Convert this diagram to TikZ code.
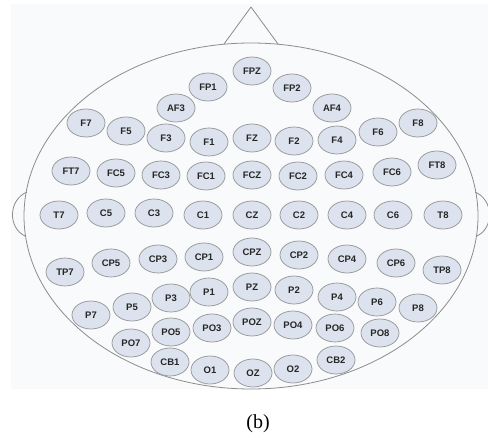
\documentclass[tikz,border=0pt]{standalone}
\usepackage{fontspec}
\setmainfont{Liberation Serif}
\newfontfamily\elfont{Liberation Sans}
\usetikzlibrary{shapes.geometric}
\definecolor{bgpanel}{HTML}{F9FAFC}
\definecolor{elfill}{HTML}{DCE3EE}
\definecolor{elline}{HTML}{929292}
\definecolor{headline}{HTML}{8C8C8C}

\begin{document}
\begin{tikzpicture}[x=1pt,y=-1pt,
  el/.style={ellipse,draw=elline,fill=elfill,line width=0.7pt,minimum width=38pt,minimum height=28pt,inner sep=0pt,font=\elfont\bfseries\fontsize{9.5}{10}\selectfont,text=black!85},
  head/.style={draw=headline,line width=0.8pt}]
\useasboundingbox (0,0) rectangle (488,441);
\fill[bgpanel] (11,4) rectangle (488,389);
\draw[head] (251,216) ellipse [x radius=227,y radius=173];
\draw[head] (224,44) -- (251,7) -- (278,44);
\draw[head] (27,192) .. controls (8,200) and (8,228) .. (25,236);
\draw[head] (475,192) .. controls (494,200) and (494,228) .. (477,236);

\node[el] (FPZ) at (252,71) {FPZ};
\node[el] (FP1) at (208,87) {FP1};
\node[el] (FP2) at (292,88) {FP2};
\node[el] (AF3) at (176,108) {AF3};
\node[el] (AF4) at (332,108) {AF4};

\node[el] (F7) at (86,123) {F7};
\node[el] (F5) at (126,131) {F5};
\node[el] (F3) at (166,138) {F3};
\node[el] (F1) at (209,142) {F1};
\node[el] (FZ) at (252,138) {FZ};
\node[el] (F2) at (294,141) {F2};
\node[el] (F4) at (337,140) {F4};
\node[el] (F6) at (378,132) {F6};
\node[el] (F8) at (418,123) {F8};

\node[el] (FT7) at (71,171) {FT7};
\node[el] (FC5) at (116,173) {FC5};
\node[el] (FC3) at (161,175) {FC3};
\node[el] (FC1) at (206,176) {FC1};
\node[el] (FCZ) at (252,175) {FCZ};
\node[el] (FC2) at (298,176) {FC2};
\node[el] (FC4) at (344,175) {FC4};
\node[el] (FC6) at (392,172) {FC6};
\node[el] (FT8) at (437,165) {FT8};

\node[el] (T7) at (59,215) {T7};
\node[el] (C5) at (106,213) {C5};
\node[el] (C3) at (154,213) {C3};
\node[el] (C1) at (203,215) {C1};
\node[el] (CZ) at (252,215) {CZ};
\node[el] (C2) at (299,215) {C2};
\node[el] (C4) at (347,215) {C4};
\node[el] (C6) at (393,215) {C6};
\node[el] (T8) at (443,215) {T8};

\node[el] (TP7) at (65,272) {TP7};
\node[el] (CP5) at (111,263) {CP5};
\node[el] (CP3) at (158,259) {CP3};
\node[el] (CP1) at (204,257) {CP1};
\node[el] (CPZ) at (252,252) {CPZ};
\node[el] (CP2) at (299,255) {CP2};
\node[el] (CP4) at (347,259) {CP4};
\node[el] (CP6) at (396,263) {CP6};
\node[el] (TP8) at (442,270) {TP8};

\node[el] (P7) at (91,315) {P7};
\node[el] (P5) at (132,307) {P5};
\node[el] (P3) at (171,298) {P3};
\node[el] (P1) at (209,292) {P1};
\node[el] (PZ) at (252,287) {PZ};
\node[el] (P2) at (294,290) {P2};
\node[el] (P4) at (337,297) {P4};
\node[el] (P6) at (377,302) {P6};
\node[el] (P8) at (418,308) {P8};

\node[el] (PO7) at (131,343) {PO7};
\node[el] (PO5) at (171,332) {PO5};
\node[el] (PO3) at (212,328) {PO3};
\node[el] (POZ) at (252,322) {POZ};
\node[el] (PO4) at (293,325) {PO4};
\node[el] (PO6) at (335,328) {PO6};
\node[el] (PO8) at (380,333) {PO8};

\node[el] (CB1) at (170,362) {CB1};
\node[el] (O1) at (210,370) {O1};
\node[el] (OZ) at (253,373) {OZ};
\node[el] (O2) at (293,369) {O2};
\node[el] (CB2) at (336,360) {CB2};

\node[font=\fontsize{20}{22}\selectfont] (caption) at (258,424) {(b)};
\end{tikzpicture}
\end{document}
